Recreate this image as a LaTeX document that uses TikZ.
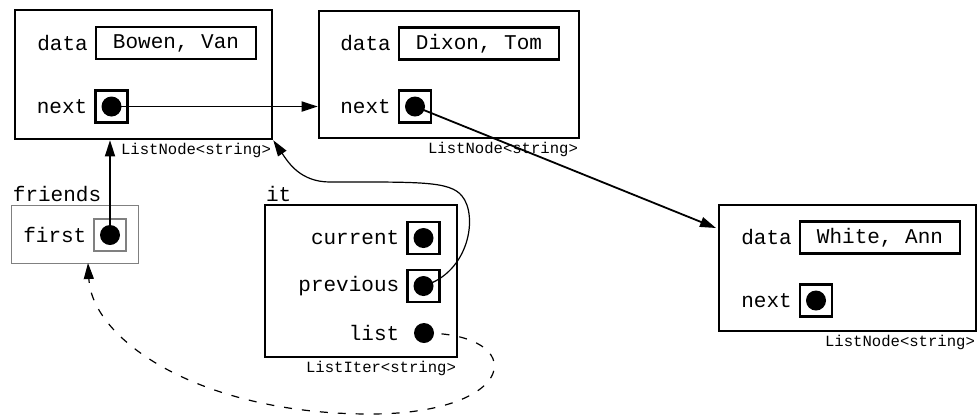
\documentclass[tikz,border=0pt]{standalone}
\usepackage{fontspec}
\setmonofont{Liberation Mono}
\usetikzlibrary{arrows.meta,positioning}

\begin{document}
\begin{tikzpicture}[x=0.5pt,y=-0.5pt,>={Triangle[length=8pt,width=5pt]},
    font=\ttfamily\fontsize{10.5}{12}\selectfont,
    obj/.style={draw,line width=1.3pt,inner sep=0pt},
    field/.style={draw,line width=1.2pt,inner sep=0pt,minimum height=16pt,minimum width=80pt},
    ptrbox/.style={draw,line width=1.2pt,inner sep=0pt,minimum size=16pt},
    dot/.style={circle,fill,inner sep=0pt,minimum size=10pt},
    tname/.style={anchor=north east,inner sep=1pt,font=\ttfamily\fontsize{7.8}{9}\selectfont},
    link/.style={->,line width=0.9pt}]

  \useasboundingbox (0,0) rectangle (980,419);

  % first list node
  \node[obj,minimum width=128.5pt,minimum height=64.5pt] (n1) at (143.5,74.5) {};
  \node[field] (n1data) at (176,43) {Bowen, Van};
  \node[left=0pt of n1data] (n1dlab) {data};
  \node[ptrbox] (n1next) at (111.5,106.5) {};
  \node[left=0pt of n1next] (n1nlab) {next};
  \node[dot] (n1dot) at (n1next) {};
  \node[tname] (n1type) at (n1.south east) {ListNode<string>};

  % second list node
  \node[obj,minimum width=130pt,minimum height=63.5pt] (n2) at (449,74.5) {};
  \node[field] (n2data) at (479,43.5) {Dixon, Tom};
  \node[left=0pt of n2data] (n2dlab) {data};
  \node[ptrbox] (n2next) at (415,106.5) {};
  \node[left=0pt of n2next] (n2nlab) {next};
  \node[dot] (n2dot) at (n2next) {};
  \node[tname] (n2type) at (n2.south east) {ListNode<string>};

  % third list node
  \node[obj,minimum width=128.5pt,minimum height=63pt] (n3) at (847.5,268) {};
  \node[field] (n3data) at (880,237.5) {White, Ann};
  \node[left=0pt of n3data] (n3dlab) {data};
  \node[ptrbox] (n3next) at (816,300.5) {};
  \node[left=0pt of n3next] (n3nlab) {next};
  \node[dot] (n3dot) at (n3next) {};
  \node[tname] (n3type) at (n3.south east) {ListNode<string>};

  % the list object
  \node[draw,gray,line width=0.5pt,minimum width=63.5pt,minimum height=29pt] (fr) at (74.5,234) {};
  \node[anchor=south west,inner sep=1pt] (frlab) at (fr.north west) {friends};
  \node[draw,gray,line width=0.6pt,minimum size=16pt,inner sep=0pt] (frfirst) at (110,235) {};
  \node[left=0pt of frfirst] (frflab) {first};
  \node[dot] (frdot) at (frfirst) {};

  % the iterator
  \node[obj,minimum width=96pt,minimum height=76pt] (it) at (361,281) {};
  \node[anchor=south west,inner sep=1pt] (itlab) at (it.north west) {it};
  \node[ptrbox] (itcur) at (423.5,238) {};
  \node[left=0pt of itcur] (itclab) {current};
  \node[dot] (itcdot) at (itcur) {};
  \node[ptrbox] (itprev) at (423.5,286) {};
  \node[left=0pt of itprev] (itplab) {previous};
  \node[dot] (itpdot) at (itprev) {};
  \node[dot] (itldot) at (424,333) {};
  \node[anchor=east] (itllab) at (itclab.east |- itldot) {list};
  \node[tname] (ittype) at (it.south east) {ListIter<string>};

  \coordinate (n3in) at (716,228);
  \coordinate (frin) at (88,263);

  \draw[link] (n1dot.center) -- (n1dot -| n2.west);
  \draw[link] (n2dot.center) -- (n3in);
  \draw[link] (frdot.center) -- (frdot |- n1.south);
  \draw[->,line width=0.6pt] (itpdot.center) .. controls (470,272) and (478,215) .. (462,196)
    .. controls (450,181) and (420,182) .. (330,182)
    .. controls (300,182) and (288,162) .. (n1.south east);
  \draw[->,dash pattern=on 4pt off 5pt,line width=0.6pt] (itpdot.center |- itldot) .. controls (530,333) and (520,414) .. (370,414)
    .. controls (200,414) and (92,340) .. (frin);
\end{tikzpicture}
\end{document}
